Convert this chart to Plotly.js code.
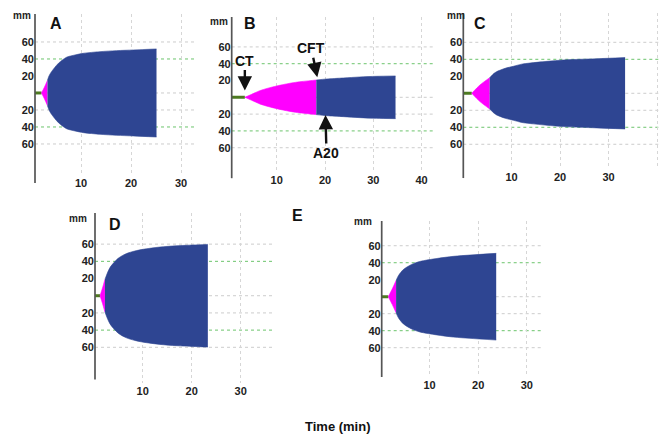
<!DOCTYPE html>
<html>
<head>
<meta charset="utf-8">
<script src="https://cdn.plot.ly/plotly-3.0.1.min.js"></script>
<style>html,body{margin:0;padding:0;background:#fff}#chart{width:661px;height:434px}</style>
</head>
<body>
<div id="chart"></div>
<script>
// ---- data (time in min, amplitude in mm) ----
var panelNames = ['A', 'B', 'C', 'D', 'E'];

var A_time = [2.1, 2.7, 3.3, 3.6, 4.1, 5.5, 7.1, 8.8, 10.5, 13.8, 17.1, 20.5, 25.1];
var A_amp  = [0, 7, 15, 20, 25, 35, 42, 44.7, 46.7, 48.6, 49.8, 50.6, 51.8];
var A_cft  = 3.3;

var B_time = [3.4, 4.8, 6.5, 8.2, 10.0, 11.7, 13.4, 15.2, 16.9, 18.2, 20.3, 23.8, 27.2, 30.7, 34.6];
var B_amp  = [0, 3.5, 7.9, 10.9, 13.5, 15.6, 17.4, 18.8, 19.8, 20.6, 21.8, 23.0, 24.2, 25.0, 25.4];
var B_cft  = 18.2;

var C_time = [1.8, 3.5, 5.5, 6.4, 6.9, 8.7, 10.4, 12.1, 13.8, 17.3, 20.7, 24.1, 27.6, 33.4];
var C_amp  = [0, 9.8, 18.4, 23.5, 25.4, 29.4, 31.8, 34.3, 35.6, 37.6, 39.2, 40.0, 40.7, 42.0];
var C_cft  = 5.5;

var D_time = [1.3, 1.8, 2.3, 3.3, 5.0, 6.7, 8.4, 10.1, 13.5, 16.9, 20.3, 23.3];
var D_amp  = [0, 9, 19, 32.5, 43.5, 49, 52, 54, 56.6, 58.1, 59, 59.7];
var D_cft  = 2.3;

var E_time = [1.5, 2.3, 3.1, 3.6, 4.6, 6.3, 8.0, 11.5, 14.9, 18.3, 23.7];
var E_amp  = [0, 9, 19, 25, 32, 38, 41.5, 45, 47.5, 49, 51];
var E_cft  = 3.1;

var xTicksShort = [10, 20, 30];
var xTicksLong  = [10, 20, 30, 40];
var yTickVals   = [-60, -40, -20, 20, 40, 60];
var yTickText   = ['60', '40', '20', '20', '40', '60'];
var grayLevels  = [60, 0, -20, -60];
var greenLevels = [40, -40];

// ---- panel geometry (pixels in 661x434 canvas) ----
var W = 661, H = 434;
var geom = {
  A: {px: [35, 197],    py: [14, 175],  xr: [0.8, 33.2],   yr: [-96.5, 92.9], ax0: -0.05,  xt: xTicksShort},
  B: {px: [231.7, 433], py: [17, 172],  xr: [0.68, 42.36], yr: [-88.9, 95.6], ax0: -0.04,  xt: xTicksLong},
  C: {px: [463.3, 661], py: [13, 169],  xr: [0.06, 40.8],  yr: [-89.1, 94.5], ax0: -0.058, xt: xTicksLong},
  D: {px: [95, 273],    py: [213, 383], xr: [0.27, 36.6],  yr: [-101.5, 96.2], ax0: 0.02,  xt: xTicksShort},
  E: {px: [381.7, 543], py: [221, 377], xr: [0.14, 33.33], yr: [-94.5, 89.1], ax0: 0,      xt: xTicksShort}
};
var series = {
  A: {t: A_time, a: A_amp, cft: A_cft},
  B: {t: B_time, a: B_amp, cft: B_cft},
  C: {t: C_time, a: C_amp, cft: C_cft},
  D: {t: D_time, a: D_amp, cft: D_cft},
  E: {t: E_time, a: E_amp, cft: E_cft}
};

var FONT = 'Liberation Sans, Arial, sans-serif';
var BLUE = '#2e4592', PINK = '#ff00ff', FLAT = '#4d7a20';

var traces = [], shapes = [], annotations = [];
var layout = {
  width: W, height: H, margin: {l: 0, r: 0, t: 0, b: 0},
  paper_bgcolor: '#ffffff', plot_bgcolor: 'rgba(0,0,0,0)',
  showlegend: false, font: {family: FONT, color: '#222'}
};

function band(t, a, color, xa, ya) {
  traces.push({type: 'scatter', mode: 'lines', x: t, y: a, xaxis: xa, yaxis: ya,
    line: {color: color, width: 0.6, shape: 'spline', smoothing: 0.8}, hoverinfo: 'skip'});
  traces.push({type: 'scatter', mode: 'lines', x: t, y: a.map(function (v) { return -v; }), xaxis: xa, yaxis: ya,
    fill: 'tonexty', fillcolor: color,
    line: {color: color, width: 0.6, shape: 'spline', smoothing: 0.8}, hoverinfo: 'skip'});
}

panelNames.forEach(function (name, i) {
  var g = geom[name], s = series[name];
  var n = i + 1, xa = 'x' + (n === 1 ? '' : n), ya = 'y' + (n === 1 ? '' : n);
  var xk = 'xaxis' + (n === 1 ? '' : n), yk = 'yaxis' + (n === 1 ? '' : n);

  layout[xk] = {
    domain: [g.px[0] / W, g.px[1] / W], range: g.xr, anchor: ya,
    tickvals: g.xt, ticktext: g.xt.map(String), ticks: '',
    showgrid: true, gridcolor: '#d6d6d6', griddash: 'dot', gridwidth: 1,
    zeroline: false, showline: false,
    tickfont: {family: FONT, size: 11, color: '#222', weight: 'bold'}
  };
  layout[yk] = {
    domain: [1 - g.py[1] / H, 1 - g.py[0] / H], range: g.yr, anchor: xa,
    tickvals: yTickVals, ticktext: yTickText, ticks: '',
    showgrid: false, zeroline: false, showline: false,
    tickfont: {family: FONT, size: 11, color: '#222', weight: 'bold'}
  };

  grayLevels.forEach(function (v) {
    shapes.push({type: 'line', layer: 'below', xref: xa + ' domain', x0: 0, x1: 1, yref: ya, y0: v, y1: v,
      line: {color: '#cccccc', width: 1, dash: 'dot'}});
  });
  greenLevels.forEach(function (v) {
    shapes.push({type: 'line', layer: 'below', xref: xa + ' domain', x0: 0, x1: 1, yref: ya, y0: v, y1: v,
      line: {color: '#6cc46c', width: 1, dash: 'dot'}});
  });
  shapes.push({type: 'line', layer: 'above', xref: xa + ' domain', x0: 0, x1: 0, yref: ya + ' domain', y0: g.ax0, y1: 1,
    line: {color: '#555555', width: 1.7}});

  traces.push({type: 'scatter', mode: 'lines', x: [0, s.t[0]], y: [0, 0], xaxis: xa, yaxis: ya,
    line: {color: FLAT, width: 3}, hoverinfo: 'skip'});

  var pt = [], pa = [], bt = [], ba = [];
  s.t.forEach(function (t, k) {
    if (t <= s.cft) { pt.push(t); pa.push(s.a[k]); }
    if (t >= s.cft) { bt.push(t); ba.push(s.a[k]); }
  });
  band(pt, pa, PINK, xa, ya);
  band(bt, ba, BLUE, xa, ya);
});

var letterPos = {A: [56, 24], B: [250, 23], C: [480, 23], D: [115.5, 224], E: [297.5, 215]};
var mmPos     = {A: [22, 15], B: [219, 21.5], C: [456, 15], D: [78, 218], E: [362.5, 221.5]};
panelNames.forEach(function (name) {
  annotations.push({xref: 'paper', yref: 'paper', x: letterPos[name][0] / W, y: 1 - letterPos[name][1] / H,
    text: name, showarrow: false, xanchor: 'center', yanchor: 'middle',
    font: {family: FONT, size: 16, color: '#111', weight: 'bold'}});
  annotations.push({xref: 'paper', yref: 'paper', x: mmPos[name][0] / W, y: 1 - mmPos[name][1] / H,
    text: 'mm', showarrow: false, xanchor: 'center', yanchor: 'middle',
    font: {family: FONT, size: 10, color: '#222', weight: 'bold'}});
});

var arrowFont = {family: FONT, size: 14, color: '#111', weight: 'bold'};
annotations.push({xref: 'x2', yref: 'y2', x: B_time[0], y: 8, ax: 0, ay: -30, text: 'CT',
  showarrow: true, arrowhead: 2, arrowsize: 1.2, arrowwidth: 2.4, arrowcolor: '#111', standoff: 0, font: arrowFont});
annotations.push({xref: 'x2', yref: 'y2', x: 18.4, y: 24, ax: -6, ay: -29, text: 'CFT',
  showarrow: true, arrowhead: 2, arrowsize: 1.2, arrowwidth: 2.4, arrowcolor: '#111', standoff: 0, font: arrowFont});
annotations.push({xref: 'x2', yref: 'y2', x: 20.1, y: -21, ax: 1, ay: 38, text: 'A20',
  showarrow: true, arrowhead: 2, arrowsize: 1.2, arrowwidth: 2.4, arrowcolor: '#111', standoff: 0, font: arrowFont});

annotations.push({xref: 'paper', yref: 'paper', x: 338 / W, y: 1 - 426.5 / H, text: 'Time (min)',
  showarrow: false, xanchor: 'center', yanchor: 'middle',
  font: {family: FONT, size: 13, color: '#111', weight: 'bold'}});

layout.shapes = shapes;
layout.annotations = annotations;

Plotly.newPlot('chart', traces, layout, {staticPlot: true, displayModeBar: false});
</script>
</body>
</html>
